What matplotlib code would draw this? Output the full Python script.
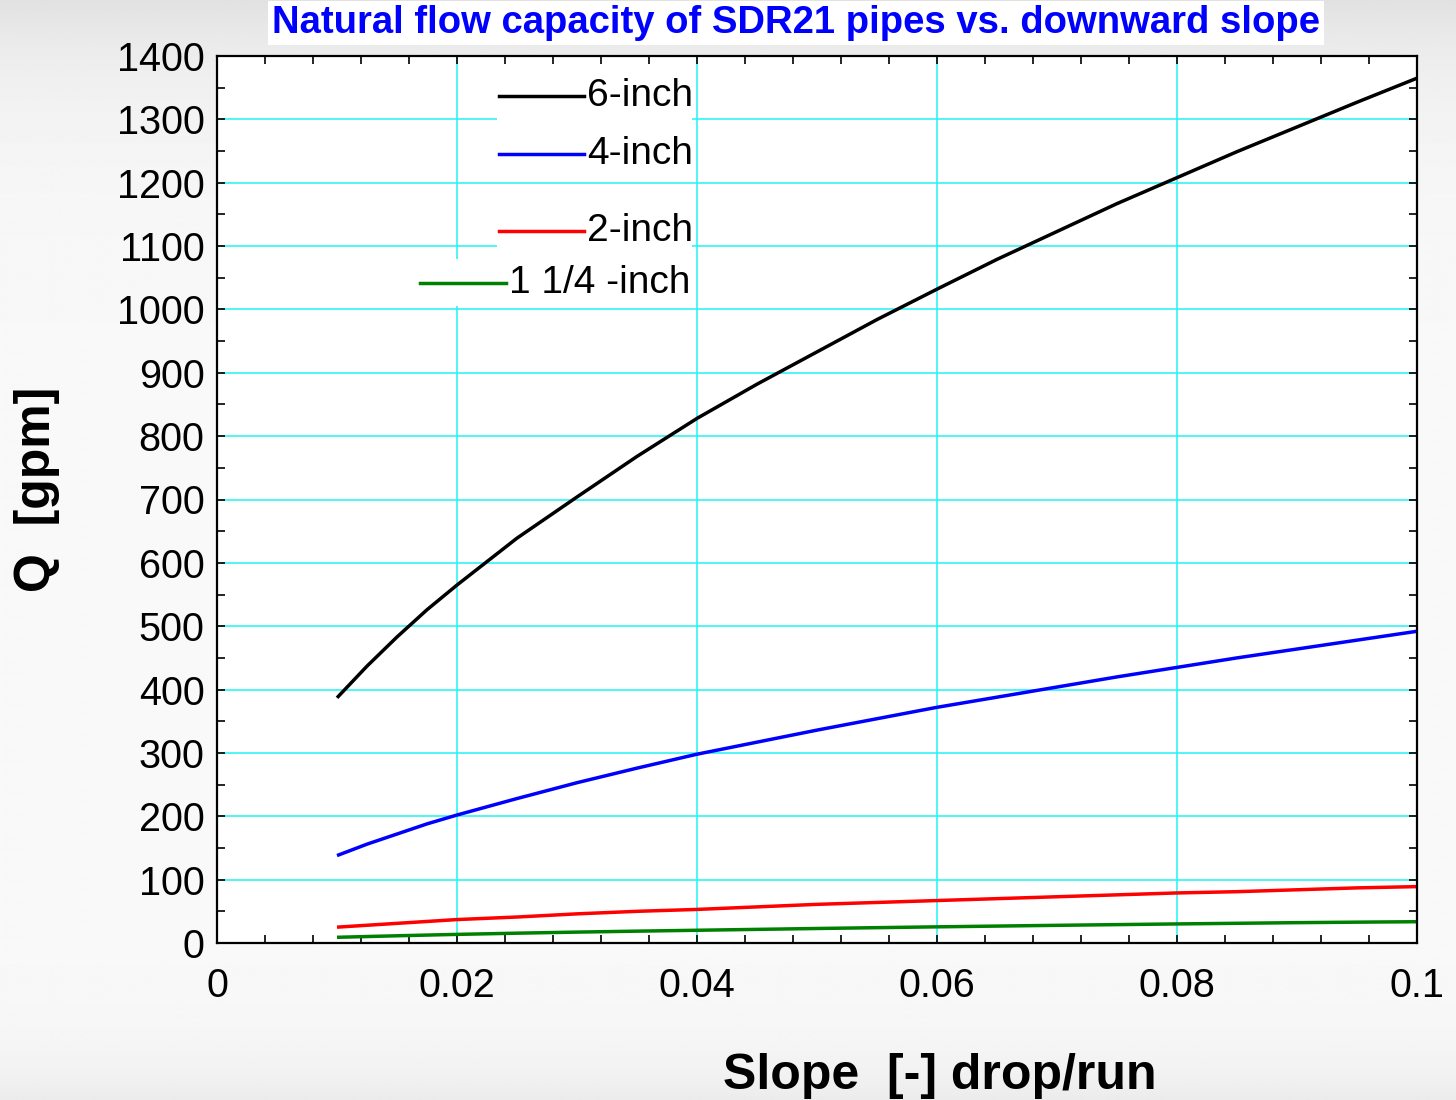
import numpy as np
import matplotlib
matplotlib.use("Agg")
import matplotlib.pyplot as plt
from matplotlib.patches import Rectangle

plt.rcParams['font.family'] = ['Liberation Sans', 'DejaVu Sans']

# Slope values (drop/run)
slope = [0.010, 0.0125, 0.015, 0.0175, 0.020, 0.025, 0.030, 0.035, 0.040,
         0.045, 0.050, 0.055, 0.060, 0.065, 0.070, 0.075, 0.080, 0.085,
         0.090, 0.095, 0.100]

# Natural flow capacity in gpm for each pipe size
q_6in = [387, 437, 483, 526, 565, 639, 704, 768, 828, 882, 933, 984, 1032,
         1079, 1123, 1167, 1208, 1249, 1288, 1327, 1365]
q_4in = [138, 156, 172, 188, 202, 228, 253, 276, 298, 317, 336, 354, 372,
         388, 404, 420, 435, 450, 464, 478, 492]
q_2in = [25, 28, 31, 34, 37, 41, 46, 50, 53, 57, 61, 64, 67, 70, 73, 76,
         79, 81, 84, 87, 89]
q_125in = [9, 10.2, 11.4, 12.5, 13.6, 15.5, 17.2, 18.7, 20.1, 21.5, 22.9,
           24.2, 25.5, 26.7, 27.9, 29.0, 30.1, 31.1, 32.1, 32.9, 33.6]

series_labels = ["6-inch", "4-inch", "2-inch", "1 1/4 -inch"]
series_colors = ["black", "#0000ff", "#ff0000", "#008000"]

x_ticks = [0, 0.02, 0.04, 0.06, 0.08, 0.1]
x_tick_labels = ["0", "0.02", "0.04", "0.06", "0.08", "0.1"]
y_ticks = list(range(0, 1401, 100))

W, H, DPI = 1456, 1100, 100
fig = plt.figure(figsize=(W / DPI, H / DPI), dpi=DPI)

# soft grey backdrop, darker at the top and bottom edges
bg = fig.add_axes([0, 0, 1, 1], zorder=-10)
t = np.linspace(0, 1, 400)
shade = 0.975 - 0.09 * np.exp(-t / 0.08) - 0.05 * np.exp(-(1 - t) / 0.04)
img = np.repeat(shade[:, None], 2, axis=1)
bg.imshow(img, cmap="gray", vmin=0, vmax=1, aspect="auto",
          extent=[0, 1, 0, 1], origin="upper")
bg.set_axis_off()

ax = fig.add_axes([217 / W, 1 - 943 / H, 1200 / W, 887 / H])
ax.set_facecolor("white")

series = [q_6in, q_4in, q_2in, q_125in]
for q, c in zip(series, series_colors):
    ax.plot(slope, q, color=c, lw=2.5, zorder=4, solid_capstyle="butt",
            solid_joinstyle="round")

ax.set_xlim(0, 0.1)
ax.set_ylim(0, 1400)
ax.set_xticks(x_ticks)
ax.set_xticklabels(x_tick_labels)
ax.set_yticks(y_ticks)
ax.set_xticks(np.arange(0, 0.1001, 0.004), minor=True)
ax.set_yticks(np.arange(0, 1401, 50), minor=True)

ax.grid(True, which="major", color="#1ef4f4", lw=1.1, zorder=1)
ax.set_axisbelow(True)
ax.tick_params(which="both", direction="in", top=True, right=True,
               length=6, width=1.2, color="black")
ax.tick_params(axis="x", which="major", labelsize=28.5, pad=17)
ax.tick_params(axis="y", which="major", labelsize=28.5, pad=9)
for s in ax.spines.values():
    s.set_linewidth(1.6)
    s.set_zorder(6)

ax.set_xlabel("Slope  [-] drop/run", fontsize=36, fontweight="bold")
ax.set_ylabel("Q  [gpm]", fontsize=36, fontweight="bold")
ax.xaxis.set_label_coords(0.6025, -0.124)
ax.yaxis.set_label_coords(-0.131, 0.511)

# legend entries: white backing boxes, short line samples and labels
def px(xp):
    return (xp - 217) / 1200 * 0.1

def py(yp):
    return (943 - yp) / 887 * 1400

boxes = [(497, 692, 68, 125), (497, 692, 128, 179),
         (497, 692, 200, 252), (418, 690, 259, 306)]
for x0, x1, y0, y1 in boxes:
    ax.add_patch(Rectangle((px(x0), py(y1)), px(x1) - px(x0),
                           py(y0) - py(y1), facecolor="white",
                           edgecolor="none", zorder=2))

entries = [(499, 584, 96), (499, 584, 154), (499, 584, 231), (420, 506, 283)]
for (x0, x1, yp), lab, c in zip(entries, series_labels, series_colors):
    ax.plot([px(x0), px(x1)], [py(yp), py(yp)], color=c, lw=2.5, zorder=3)
    ax.text(px(x1 + 3), py(yp), lab, fontsize=28,
            va="center", ha="left", zorder=3)

fig.text(796 / W, 1 - 23 / H,
         "Natural flow capacity of SDR21 pipes vs. downward slope",
         fontsize=27.5, fontweight="bold", color="#0000ff",
         ha="center", va="center",
         bbox=dict(facecolor="white", edgecolor="none", pad=3))

fig.savefig("out.png", dpi=DPI)
